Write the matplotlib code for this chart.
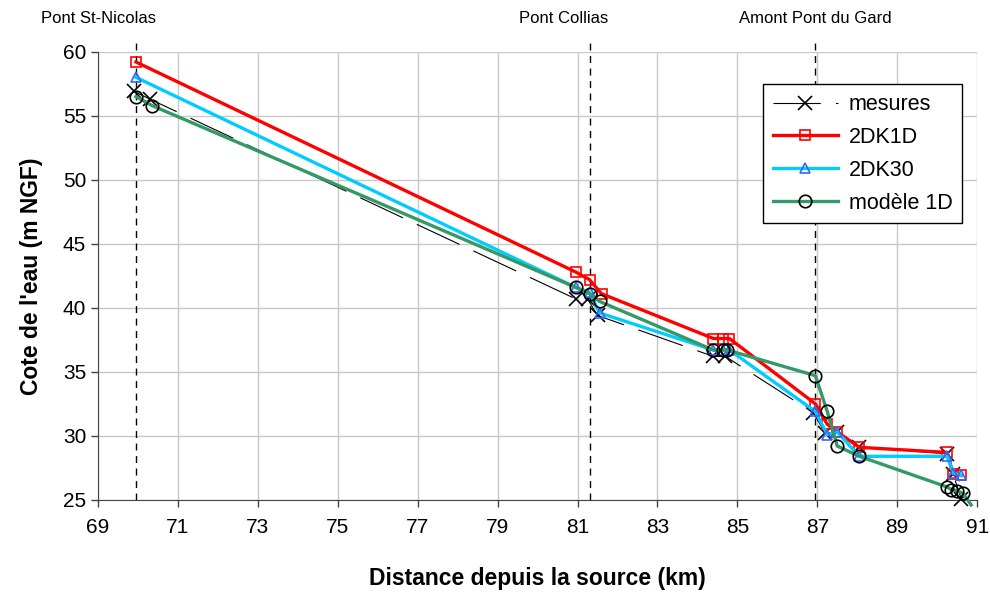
import matplotlib
matplotlib.use("Agg")
import matplotlib.pyplot as plt

plt.rcParams.update({"font.family": ["Liberation Sans", "DejaVu Sans"],
                     "lines.scale_dashes": False})

# ---- data (km from source, water level m NGF) ----
mes_x = [69.9, 70.3, 80.95, 81.25, 81.5, 84.4, 84.7, 86.9, 87.2, 87.5, 88.05, 90.25, 90.4, 90.6]
mes_y = [56.9, 56.3, 40.7, 40.7, 39.4, 36.2, 36.2, 31.8, 30.2, 30.3, 29.1, 28.6, 27.0, 25.1]

k1d_x = [69.95, 80.95, 81.3, 81.6, 84.4, 84.65, 84.8, 86.95, 87.25, 87.5, 88.05, 90.25, 90.4, 90.6]
k1d_y = [59.2, 42.8, 42.2, 41.1, 37.6, 37.6, 37.6, 32.5, 30.9, 30.3, 29.1, 28.7, 27.0, 26.9]

k30_x = [69.95, 80.95, 81.3, 81.55, 84.4, 84.65, 84.8, 86.95, 87.25, 87.5, 88.05, 90.25, 90.4, 90.6]
k30_y = [58.0, 41.6, 41.2, 39.6, 36.7, 36.7, 36.7, 31.9, 30.1, 30.3, 28.4, 28.4, 27.1, 26.9]

m1d_x = [69.95, 70.35, 80.95, 81.3, 81.55, 84.4, 84.65, 84.75, 86.95, 87.25, 87.5, 88.05, 90.25, 90.35, 90.5, 90.65, 90.85]
m1d_y = [56.5, 55.8, 41.6, 41.1, 40.5, 36.7, 36.7, 36.7, 34.7, 31.9, 29.2, 28.4, 26.0, 25.8, 25.7, 25.5, 24.6]

bridges_x = [69.95, 81.3, 86.95]
bridges = ["Pont St-Nicolas", "Pont Collias", "Amont Pont du Gard"]
bridge_lbl_x = [69.0, 80.65, 86.95]

xticks = list(range(69, 92, 2))
yticks = list(range(25, 61, 5))

RED, CYAN, GREEN, BLUE = "#ff0000", "#00ccff", "#339966", "#3366ff"

fig = plt.figure(figsize=(9.9, 5.95), dpi=100)
ax = fig.add_axes([0.099, 0.160, 0.888, 0.753])

# reference bridges: dashed verticals, going a bit above the plot area
for bx, name, lx in zip(bridges_x, bridges, bridge_lbl_x):
    ax.plot([bx, bx], [25, 60.8], color="black", lw=1, dashes=(5, 4), clip_on=False, zorder=2)
    ax.text(lx, 62.6, name, ha="center", va="center", fontsize=12, clip_on=False)

ax.plot(mes_x, mes_y, color="black", lw=0.8, dashes=(34, 11), marker="x", ms=10, mew=1.2,
        label="mesures", zorder=3, clip_on=False)
ax.plot(k1d_x, k1d_y, color=RED, lw=2.4, marker="s", ms=7, mfc="none", mec=RED, mew=1.2,
        label="2DK1D", zorder=4, clip_on=False)
ax.plot(k30_x, k30_y, color=CYAN, lw=2.4, marker="^", ms=7, mfc="none", mec=BLUE, mew=1.2,
        label="2DK30", zorder=5, clip_on=False)
ax.plot(m1d_x, m1d_y, color=GREEN, lw=2.4, marker="o", ms=9, mfc="none", mec="black", mew=1.2,
        markevery=list(range(len(m1d_x) - 1)), label="modèle 1D", zorder=6, clip_on=False)

ax.set_xlim(69, 91)
ax.set_ylim(25, 60)
ax.set_xticks(xticks)
ax.set_yticks(yticks)
ax.tick_params(labelsize=15, length=5, color="#444444", width=1)
ax.tick_params(axis="x", pad=8)
ax.grid(True, color="#c8c8c8", lw=1)
ax.set_axisbelow(True)
for s in ("top", "right"):
    ax.spines[s].set_visible(False)
ax.spines["left"].set_color("#444444")
ax.spines["bottom"].set_color("#444444")

ax.set_xlabel("Distance depuis la source (km)", fontsize=16.5, fontweight="bold", labelpad=22)
ax.set_ylabel("Cote de l'eau (m NGF)", fontsize=16.5, fontweight="bold", labelpad=14)

leg = ax.legend(loc="upper right", bbox_to_anchor=(0.995, 0.951), fontsize=15.5, frameon=True,
                fancybox=False, framealpha=1, edgecolor="black", handlelength=3.0,
                handletextpad=0.5, borderpad=0.45, labelspacing=0.55)
leg.get_frame().set_linewidth(1)

fig.savefig("out.png", dpi=100)
